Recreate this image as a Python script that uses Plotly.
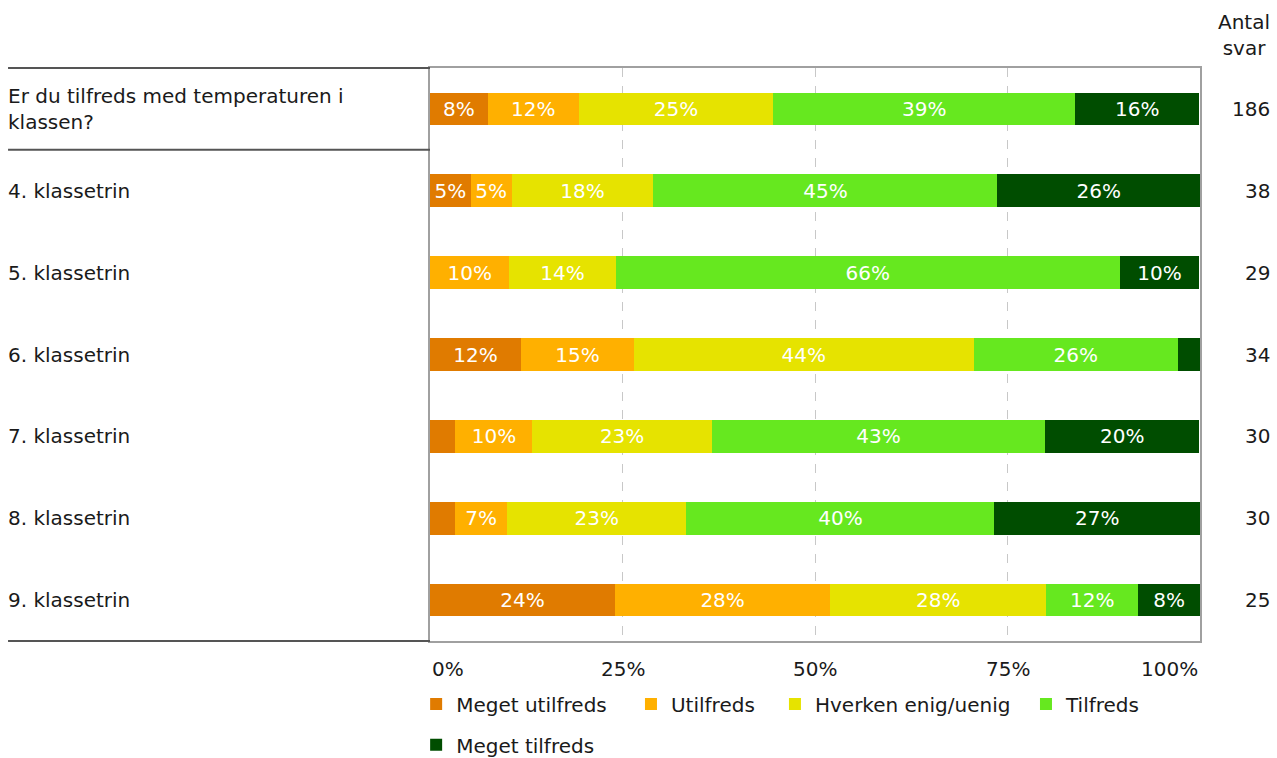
import plotly.graph_objects as go

categories = ["Er du tilfreds med temperaturen i<br>klassen?", "4. klassetrin", "5. klassetrin",
              "6. klassetrin", "7. klassetrin", "8. klassetrin", "9. klassetrin"]
counts = [186, 38, 29, 34, 30, 30, 25]
series_names = ["Meget utilfreds", "Utilfreds", "Hverken enig/uenig", "Tilfreds", "Meget tilfreds"]
meget_utilfreds = [7.5, 5.3, 0.0, 11.8, 3.3, 3.3, 24.0]
utilfreds = [11.8, 5.3, 10.3, 14.7, 10.0, 6.7, 28.0]
hverken = [25.3, 18.4, 13.8, 44.1, 23.3, 23.3, 28.0]
tilfreds = [39.2, 44.7, 65.5, 26.5, 43.3, 40.0, 12.0]
meget_tilfreds = [16.1, 26.3, 10.3, 2.9, 20.0, 26.7, 8.0]
colors = ["#E07B00", "#FFB000", "#E6E300", "#66E81F", "#004D00"]
tick_vals = [0, 25, 50, 75, 100]
tick_text = ["0%", "25%", "50%", "75%", "100%"]

FONT = "DejaVu Sans"
FS = 20
TXT = "#1a1a1a"
ypos = list(range(len(categories)))

# legend placement (paper coords) for each series entry
legend_pos = [(-0.018, -0.076), (0.261, -0.076), (0.448, -0.076), (0.774, -0.076), (-0.018, -0.147)]

fig = go.Figure()
for k, (name, vals, col) in enumerate(zip(series_names,
                           [meget_utilfreds, utilfreds, hverken, tilfreds, meget_tilfreds],
                           colors)):
    labels = [f"{v:.0f}%" if v >= 4 else "" for v in vals]
    fig.add_trace(go.Bar(
        x=vals, y=ypos, orientation="h", name=name,
        marker=dict(color=col, line=dict(width=0)),
        width=0.4, text=labels, textposition="inside", insidetextanchor="middle",
        textangle=0, constraintext="none",
        textfont=dict(color="white", size=FS, family=FONT),
        hoverinfo="x+name",
        legend="legend" if k == 0 else f"legend{k + 1}",
    ))

legend_common = dict(orientation="h", xanchor="left", yanchor="top",
                     font=dict(size=FS, family=FONT, color=TXT), traceorder="normal",
                     itemclick=False, itemdoubleclick=False, bgcolor="rgba(0,0,0,0)")
legends = {}
for k, (lx, ly) in enumerate(legend_pos):
    key = "legend" if k == 0 else f"legend{k + 1}"
    legends[key] = dict(x=lx, y=ly, **legend_common)

fig.update_layout(
    barmode="stack",
    width=1277, height=758,
    margin=dict(l=430, r=77, t=68, b=117, autoexpand=False),
    paper_bgcolor="white", plot_bgcolor="white",
    font=dict(family=FONT, size=FS, color=TXT),
    xaxis=dict(range=[0, 100], tickvals=[25, 50, 75], showticklabels=False,
               showgrid=True, gridcolor="#c8c8c8", griddash="dash", gridwidth=1,
               zeroline=False, showline=True, linecolor="#a0a0a0", linewidth=1.5,
               mirror=True, ticks=""),
    yaxis=dict(range=[6.5, -0.5], showticklabels=False, showgrid=False,
               zeroline=False, showline=True, linecolor="#a0a0a0", linewidth=1.5,
               mirror=True, ticks=""),
    showlegend=True,
    **legends,
)

# category labels on the left and response counts on the right
for i, c in enumerate(categories):
    fig.add_annotation(xref="paper", yref="y", x=-0.55, y=i, text=c, showarrow=False,
                       xanchor="left", yanchor="middle", align="left",
                       font=dict(size=FS, color=TXT, family=FONT))
    fig.add_annotation(xref="paper", yref="y", x=1.0935, y=i, text=str(counts[i]),
                       showarrow=False, xanchor="right", yanchor="middle",
                       font=dict(size=FS, color=TXT, family=FONT))

fig.add_annotation(xref="paper", yref="paper", x=1.0935, y=1.0576, text="Antal<br>svar",
                   showarrow=False, xanchor="right", yanchor="middle", align="center",
                   font=dict(size=FS, color=TXT, family=FONT))

# x tick labels
for v, t in zip(tick_vals, tick_text):
    anchor = "left" if v == 0 else ("right" if v == 100 else "center")
    fig.add_annotation(xref="x", yref="paper", x=v, y=-0.025, text=t, showarrow=False,
                       xanchor=anchor, yanchor="top",
                       font=dict(size=FS, color=TXT, family=FONT))

# left separator lines
for yv, yr in [(1, "paper"), (0.5, "y"), (0, "paper")]:
    fig.add_shape(type="line", xref="paper", yref=yr, x0=-0.548, x1=0, y0=yv, y1=yv,
                  line=dict(color="#555555", width=2))

fig.write_html("out.html", config={"displayModeBar": False},
               post_script="document.body.style.margin='0';")
